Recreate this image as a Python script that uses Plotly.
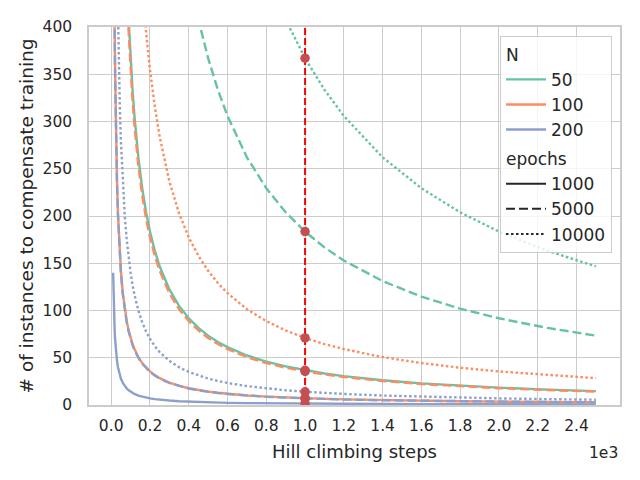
import plotly.graph_objects as go

# Hill climbing steps (x) at which values were read
X = [10, 12, 14, 16, 18, 20, 23, 26, 30, 35, 40, 45, 50, 60, 70, 80, 90, 100, 110, 120,
     140, 160, 180, 200, 225, 250, 300, 350, 400, 450, 500, 550, 600, 700, 800, 900,
     1000, 1100, 1200, 1400, 1600, 1800, 2000, 2250, 2500]

# N = 50
G_1000 = [3670, 3058, 2621, 2294, 2039, 1835, 1596, 1412, 1223, 1049, 917.5, 815.6, 734, 611.7, 524.3, 458.75, 407.8, 367, 333.6, 305.8,
          262.1, 229.4, 203.9, 183.5, 163.1, 146.8, 122.3, 104.9, 91.75, 81.6, 73.4, 66.7, 61.2, 52.4, 45.9, 40.8,
          36.7, 33.4, 30.6, 26.2, 22.9, 20.4, 18.35, 16.3, 14.7]
G_5000 = [18350, 15292, 13107, 11469, 10194, 9175, 7978, 7058, 6117, 5243, 4588, 4078, 3670, 3058, 2621, 2294, 2039, 1835, 1668, 1529,
          1311, 1147, 1019, 917.5, 815.6, 734, 611.7, 524.3, 458.75, 407.8, 367, 333.6, 305.8, 262.1, 229.4, 203.9,
          183.5, 166.8, 152.9, 131.1, 114.7, 101.9, 91.75, 81.6, 73.4]
G_10000 = [36700, 30583, 26214, 22938, 20389, 18350, 15957, 14115, 12233, 10486, 9175, 8156, 7340, 6117, 5243, 4588, 4078, 3670, 3336, 3058,
           2621, 2294, 2039, 1835, 1631, 1468, 1223, 1049, 917.5, 815.6, 734, 667.3, 611.7, 524.3, 458.75, 407.8,
           367, 333.6, 305.8, 262.1, 229.4, 203.9, 183.5, 163.1, 146.8]
# N = 100
O_1000 = [710, 591.7, 507.1, 443.8, 394.4, 355, 308.7, 273.1, 236.7, 202.9, 177.5, 157.8, 142, 118.3, 101.4, 88.75, 78.9, 71, 64.5, 59.2,
          50.7, 44.4, 39.4, 35.5, 31.6, 28.4, 23.7, 20.3, 17.75, 15.8, 14.2, 12.9, 11.8, 10.1, 8.9, 7.9,
          7.1, 6.5, 5.9, 5.1, 4.4, 3.9, 3.55, 3.2, 2.84]
O_5000 = [3550, 2958, 2536, 2219, 1972, 1775, 1543, 1365, 1183, 1014, 887.5, 788.9, 710, 591.7, 507.1, 443.8, 394.4, 355, 322.7, 295.8,
          253.6, 221.9, 197.2, 177.5, 157.8, 142, 118.3, 101.4, 88.75, 78.9, 71, 64.5, 59.2, 50.7, 44.4, 39.4,
          35.5, 32.3, 29.6, 25.4, 22.2, 19.7, 17.75, 15.8, 14.2]
O_10000 = [7100, 5917, 5071, 4438, 3944, 3550, 3087, 2731, 2367, 2029, 1775, 1578, 1420, 1183, 1014, 887.5, 788.9, 710, 645.5, 591.7,
           507.1, 443.8, 394.4, 355, 315.6, 284, 236.7, 202.9, 177.5, 157.8, 142, 129.1, 118.3, 101.4, 88.75, 78.9,
           71, 64.5, 59.2, 50.7, 44.4, 39.4, 35.5, 31.6, 28.4]
# N = 200
B_1000 = [140, 116.7, 100, 87.5, 77.8, 70, 60.9, 53.8, 46.7, 40, 35, 31.1, 28, 23.3, 20, 17.5, 15.6, 14, 12.7, 11.7,
          10, 8.75, 7.8, 7, 6.2, 5.6, 4.7, 4, 3.5, 3.1, 2.8, 2.5, 2.3, 2, 1.75, 1.6,
          1.4, 1.3, 1.2, 1, 0.9, 0.8, 0.7, 0.6, 0.56]
B_5000 = [700, 583, 500, 437.5, 388.9, 350, 304.3, 269.2, 233.3, 200, 175, 155.6, 140, 116.7, 100, 87.5, 77.8, 70, 63.6, 58.3,
          50, 43.75, 38.9, 35, 31.1, 28, 23.3, 20, 17.5, 15.6, 14, 12.7, 11.7, 10, 8.75, 7.8,
          7, 6.4, 5.8, 5, 4.4, 3.9, 3.5, 3.1, 2.8]
B_10000 = [1400, 1167, 1000, 875, 777.8, 700, 608.7, 538.5, 466.7, 400, 350, 311.1, 280, 233.3, 200, 175, 155.6, 140, 127.3, 116.7,
           100, 87.5, 77.8, 70, 62.2, 56, 46.7, 40, 35, 31.1, 28, 25.5, 23.3, 20, 17.5, 15.6,
           14, 12.7, 11.7, 10, 8.75, 7.8, 7, 6.2, 5.6]

N_LABELS = ["50", "100", "200"]
EPOCH_LABELS = ["1000", "5000", "10000"]
SERIES = {
    "50": [G_1000, G_5000, G_10000],
    "100": [O_1000, O_5000, O_10000],
    "200": [B_1000, B_5000, B_10000],
}

# marked step and the values read at it
MARK_X = 1000
MARK_Y = [367, 183.5, 71, 36.7, 35.5, 14, 7.1, 7, 1.4]
Y_SPAN = [0, 400]

XTICK_VALS = [0, 200, 400, 600, 800, 1000, 1200, 1400, 1600, 1800, 2000, 2200, 2400]
XTICK_TEXT = ["0.0", "0.2", "0.4", "0.6", "0.8", "1.0", "1.2", "1.4", "1.6", "1.8", "2.0", "2.2", "2.4"]
YTICK_VALS = [0, 50, 100, 150, 200, 250, 300, 350, 400]

COLORS = {"50": "#66c2a5", "100": "#fc8d62", "200": "#8da0cb"}
DASHES = {"1000": "solid", "5000": "9px,4px", "10000": "2.5px,2.5px"}
FONT = "DejaVu Sans"
TXT = "#262626"

fig = go.Figure()

for n in N_LABELS:
    for ep, ys in zip(EPOCH_LABELS, SERIES[n]):
        fig.add_trace(go.Scatter(
            x=X, y=ys, mode="lines", showlegend=False, hoverinfo="skip",
            line=dict(color=COLORS[n], width=2.4, dash=DASHES[ep]),
        ))

fig.add_trace(go.Scatter(
    x=[MARK_X, MARK_X], y=Y_SPAN, mode="lines", showlegend=False,
    line=dict(color="#ff0000", width=2, dash="7px,3px"),
))
fig.add_trace(go.Scatter(
    x=[MARK_X] * len(MARK_Y), y=MARK_Y, mode="markers", showlegend=False,
    marker=dict(color="#c44e52", size=9.5, line=dict(width=0)),
))

# legend entries
for n in N_LABELS:
    fig.add_trace(go.Scatter(
        x=[None], y=[None], mode="lines", name=n,
        line=dict(color=COLORS[n], width=2.4),
        legendgroup="N", legendgrouptitle=dict(text="N"),
    ))
for ep in EPOCH_LABELS:
    fig.add_trace(go.Scatter(
        x=[None], y=[None], mode="lines", name=ep,
        line=dict(color="#262626", width=2, dash=DASHES[ep]),
        legendgroup="epochs", legendgrouptitle=dict(text="epochs"),
    ))

# page body has an 8px margin, so the figure is 624x464 and offsets are adjusted
fig.update_layout(
    width=624, height=464,
    margin=dict(l=81, r=12, t=19, b=67, autoexpand=False),
    paper_bgcolor="white", plot_bgcolor="white",
    font=dict(family=FONT, size=15.5, color=TXT),
    legend=dict(
        x=0.985, y=0.977, xanchor="right", yanchor="top",
        bgcolor="rgba(255,255,255,0.8)", bordercolor="#cccccc", borderwidth=1,
        font=dict(size=17, color=TXT), tracegroupgap=4,
        grouptitlefont=dict(size=17, color=TXT),
        traceorder="grouped", itemwidth=40,
    ),
    xaxis=dict(
        range=[-114.5, 2624.5], tickvals=XTICK_VALS, ticktext=XTICK_TEXT,
        showgrid=True, gridcolor="#cccccc", gridwidth=1,
        showline=True, linecolor="#cccccc", linewidth=1.5, mirror=True,
        zeroline=False, ticks="", tickfont=dict(size=15.5, color=TXT),
        ticklabelstandoff=6, automargin=False,
        title=dict(text="Hill climbing steps", font=dict(size=18, color=TXT), standoff=11),
    ),
    yaxis=dict(
        range=Y_SPAN, tickvals=YTICK_VALS,
        showgrid=True, gridcolor="#cccccc", gridwidth=1,
        showline=True, linecolor="#cccccc", linewidth=1.5, mirror=True,
        zeroline=False, ticks="", tickfont=dict(size=15.5, color=TXT),
        ticklabelstandoff=12, automargin=False,
        title=dict(text="# of instances to compensate training", font=dict(size=18.5, color=TXT), standoff=4),
    ),
    annotations=[dict(
        text="1e3", xref="paper", yref="paper", x=1.0, y=-0.127,
        xanchor="right", yanchor="middle", showarrow=False,
        font=dict(size=15.5, color=TXT),
    )],
)

fig.write_html("out.html")
